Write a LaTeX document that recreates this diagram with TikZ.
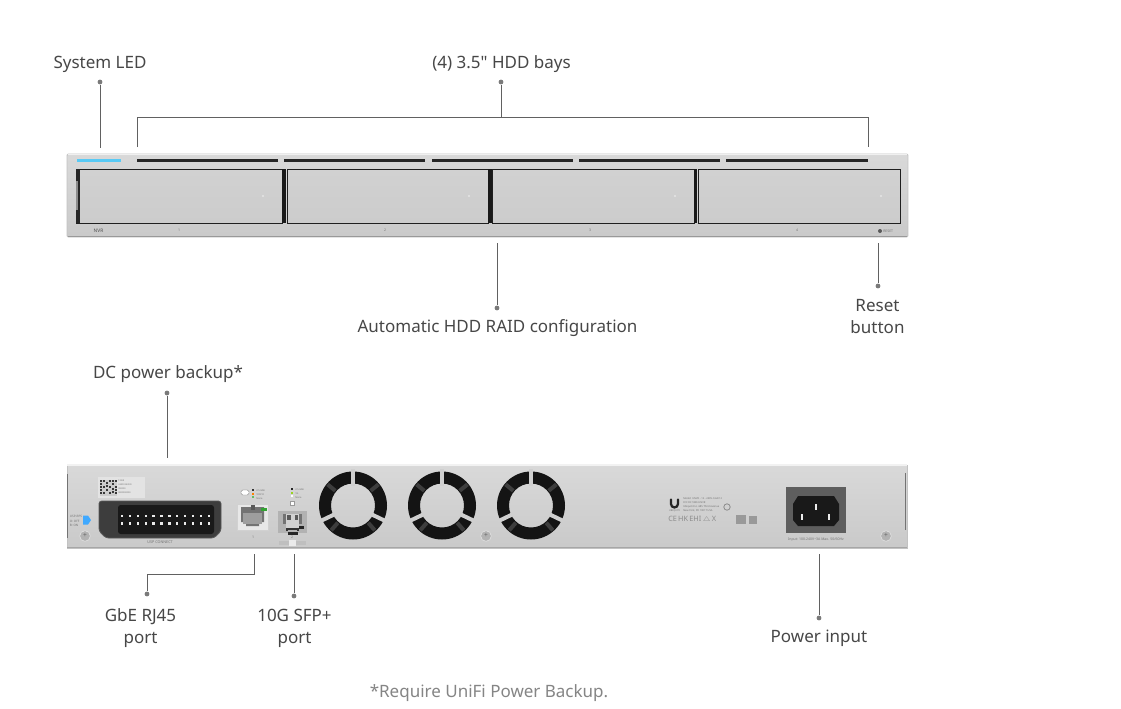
\documentclass[tikz,border=0pt]{standalone}
\usepackage{fontspec}
\setmainfont{Noto Sans}[Ligatures=TeXOff]
\begin{document}
\begin{tikzpicture}[x=0.75pt,y=-0.75pt,
  lbl/.style={font=\fontsize{12.75pt}{16.5pt}\selectfont,text=black!72,inner sep=0pt,align=center},
  note/.style={font=\fontsize{12.75pt}{16.5pt}\selectfont,text=black!48,inner sep=0pt},
  wire/.style={draw=black!62,line width=0.7pt},
  dot/.style={circle,fill=black!52,inner sep=0pt,minimum size=3.6pt},
  tiny/.style={font=\fontsize{2.6pt}{3pt}\selectfont,text=black!55,inner sep=0pt,align=center},
  slot/.style={line width=2.2pt,draw=black!85},
  bay/.style={draw=black!88,line width=0.6pt,top color=black!18,bottom color=black!20},
  bayled/.style={circle,fill=white!90!black,inner sep=0pt,minimum size=1.6pt},
  screw/.style={circle,fill=black!30,draw=black!12,line width=0.5pt,inner sep=0pt,minimum size=8pt},
  pin/.style={fill=black!8,inner sep=0pt,minimum size=1.7pt},
  chassis/.style={top color=black!15,bottom color=black!21,draw=black!24,line width=0.7pt}]
\useasboundingbox (0,0) rectangle (1121,708);
\fill[white] (0,0) rectangle (1121,708);

% ---------- front panel
\draw[chassis,rounded corners=1pt] (67,154) rectangle (908,237);
\draw[black!6,line width=0.6pt] (68,154.6) -- (907,154.6);
\draw[black!40,line width=0.7pt] (68,236.6) -- (907,236.6);
\fill[cyan!65!white] (77,158.6) rectangle (121,161.6);
\foreach \a/\b in {137/278,284/425,432/573,579/720,726/868}
  \draw[slot] (\a,160.5) -- (\b,160.5);
% bays
\draw[bay] (76,169) rectangle (282,223);
\draw[bay] (287,169) rectangle (488,223);
\draw[bay] (492,169) rectangle (694,223);
\draw[bay] (698,169) rectangle (900,223);
\fill[black!85] (76,169) rectangle (80,223);
\fill[black!45] (75.5,181) rectangle (78,210);
\fill[black!90] (282,169) rectangle (286,223);
\fill[black!90] (487.5,169) rectangle (491.5,223);
\fill[black!90] (693.5,169) rectangle (697,223);
\node[bayled] (l1) at (263,196) {};
\node[bayled] (l2) at (469,196) {};
\node[bayled] (l3) at (675,196) {};
\node[bayled] (l4) at (881,196) {};
\node[tiny,font=\fontsize{3.6pt}{4pt}\bfseries\selectfont,text=black!70] (nvr) at (98.5,230.5) {NVR};
\node[tiny] (n1) at (179,230.5) {1};
\node[tiny] (n2) at (385,230.5) {2};
\node[tiny] (n3) at (590,230.5) {3};
\node[tiny] (n4) at (797,230.5) {4};
\node[circle,fill=black!65,inner sep=0pt,minimum size=3pt] (rb) at (880,231) {};
\node[tiny,anchor=west] (rt) at (883,231) {RESET};

% ---------- rear panel
\draw[chassis] (67,465) rectangle (907,548);
\draw[black!5,line width=0.8pt] (67,465) -- (907,465);
\draw[black!35,line width=0.7pt] (67,547.6) -- (907,547.6);
\draw[black!55,line width=0.7pt] (67.5,474) -- (67.5,538);
\draw[black!55,line width=0.7pt] (905,473) -- (905,530);
% label + QR
\fill[black!11] (98,477) rectangle (145,498);
\fill[white!80!black] (100,480) rectangle (117,496);
\foreach \x/\y in {100/482,100/485,100/488,100/491,100/494,103/482,103/488,103/494,106/484,106/487,106/491,109/482,109/488,109/494,112/482,112/485,112/490,112/493,115/482,115/488,115/491,115/494}
  \fill[black!78] (\x,\y) rectangle ++(2.4,-2.2);
\node[tiny,align=left,anchor=west,font=\fontsize{1.6pt}{3pt}\selectfont] (qrt) at (118,487) {T-NVR\\UNIFI DEVICE\\000000\\0000000000};
% UPS connector
\draw[fill=black!76,draw=black!65,rounded corners=2pt,line width=0.6pt] (99,501) -- (221,501) -- (221,531) -- (214,538) -- (106,538) -- (99,531) -- cycle;
\fill[black!90,rounded corners=2pt] (118,505) rectangle (214,534);
\foreach \i in {0,...,11}{
  \node[pin] at (122+\i*7.9,516) {};
  \node[pin] at (122+\i*7.9,523.5) {};
}
\node[tiny,font=\fontsize{2.8pt}{3pt}\selectfont] (ups) at (160,542) {USP CONNECT};
\node[tiny,align=left,font=\fontsize{2.3pt}{3.2pt}\selectfont] (upst) at (76,521) {USP-RPS\\O: OFF\\B: ON};
\fill[blue!45!cyan!75!white] (83,515.5) -- (88,515.5) -- (91,520) -- (88,524.5) -- (83,524.5) -- cycle;
\node[screw] (s1) at (85,536) {};
\node[font=\fontsize{5pt}{5pt}\selectfont,text=black!60,inner sep=0pt] at (s1) {+};
% RJ45
\draw[fill=black!9,draw=black!18,line width=0.5pt] (237,504) rectangle (268,530);
\fill[black!55] (241,507) -- (264,507) -- (264,522) -- (259,522) -- (259,526) -- (246,526) -- (246,522) -- (241,522) -- cycle;
\fill[black!38] (243,513) rectangle (262,524);
\fill[green!55!black!80] (261,507.5) rectangle (267,510.5);
\fill[black!65] (251,505) rectangle (255,510);
\node[tiny] (p1) at (253,537) {1};
\node[tiny,align=left,font=\fontsize{1.8pt}{2.9pt}\selectfont,anchor=west] (rjl) at (256,494.5) {2.5 GbE\\100/10\\None};
\draw[black!55,fill=white,rounded corners=1.2pt,line width=0.3pt] (241,490) rectangle (249,495);
\fill[black!80] (252,489) rectangle (254,491);
\fill[orange] (252,492.5) rectangle (254,494.5);
\fill[green!55!black!60] (252,496) rectangle (254,498);
% SFP
\fill[black!30] (278,511) rectangle (307,533);
\fill[black!55] (283,514) -- (302,514) -- (302,524) -- (283,524) -- cycle;
\fill[black!18] (286,514) rectangle (299,528);
\fill[black!65] (287,515) rectangle (291,520);
\fill[black!65] (295,515) rectangle (298,520);
\draw[black!80,line width=1pt] (287,531) -- (287,529) -- (298,529) -- (298,531);
\fill[black!85] (299,526) rectangle (304,529);
\fill[black!85] (288,532) rectangle (298,534.5);
\node[tiny] (p2) at (292,537) {2};
\fill[black!25] (279,541) rectangle (289,544.5);
\fill[black!25] (296,541) rectangle (306,544.5);
\fill[white!92!black] (289,540) rectangle (296,546);
\node[tiny,align=left,font=\fontsize{1.8pt}{2.9pt}\selectfont,anchor=west] (sfl) at (295,493.5) {2.5 GbE\\1G\\None};
\fill[black!85] (291,487.5) rectangle (293,489.5);
\fill[yellow!60!green] (291,491.5) rectangle (293,493.5);
\fill[white] (291,495) rectangle (293,497);
\draw[black!40,fill=white,line width=0.3pt] (290,501) rectangle (294,505);
% fans
\foreach \cx in {353,442,531}{
  \fill[black!92,even odd rule] (\cx,505.5) circle[radius=25.5pt] (\cx,505.5) circle[radius=16.5pt];
  \foreach \dx/\dy in {-0.77/-0.64,0.77/-0.64,-0.66/0.75,0.66/0.75}
    \draw[black!76,line width=3pt] (\cx+\dx*23,505.5+\dy*23) -- (\cx+\dx*33,505.5+\dy*33);
  \foreach \dx/\dy in {0/-1,-0.9/0.43,0.9/0.43}
    \draw[black!19,line width=3pt] (\cx+\dx*20,505.5+\dy*20) -- (\cx+\dx*37,505.5+\dy*37);
}
\node[screw] (s2) at (486,536) {};
\node[font=\fontsize{5pt}{5pt}\selectfont,text=black!60,inner sep=0pt] at (s2) {+};
% regulatory
\draw[black!85,line width=1.7pt,line cap=round] (671,499.5) -- (671,504) arc[start angle=180,end angle=360,radius=2.6pt] -- (678,499.5);
\node[tiny,font=\fontsize{1.8pt}{2pt}\selectfont] (ub) at (674.5,511) {UBIQUITI};
\node[tiny,align=left,anchor=west,font=\fontsize{1.9pt}{3pt}\selectfont] (reg) at (683,504.5) {Model: UNVR - 12 - 240V-0.4A/12\\FCC ID: SWX-UNVR\\Ubiquiti Inc. 685 Third Avenue\\New York, NY 10017 USA};
\node[tiny,font=\fontsize{5.5pt}{6pt}\selectfont,text=black!45,anchor=west] (ce) at (668,519.5) {CE\,HK\,EHI\,$\triangle$\,X};
\draw[black!45,line width=0.6pt] (727,507) circle[radius=2.4pt];
\fill[black!40] (736,515) rectangle (746,524);
\fill[black!40] (749,516) rectangle (757,524);
% power inlet
\fill[black!63] (786,487) rectangle (846,533);
\fill[black!90] (798,496) -- (834,496) -- (839,504) -- (839,520) -- (834,526) -- (798,526) -- (793,520) -- (793,504) -- cycle;
\node[fill=black!8,inner sep=0pt,minimum width=1.5pt,minimum height=4.5pt] (pa) at (816,507) {};
\node[fill=black!8,inner sep=0pt,minimum width=1.5pt,minimum height=4.5pt] (pb) at (802,516.5) {};
\node[fill=black!8,inner sep=0pt,minimum width=1.5pt,minimum height=4.5pt] (pc) at (829,516.5) {};
\node[tiny] (inp) at (816,539.5) {Input: 100-240V\textasciitilde 3A Max. 50/60Hz};
\node[screw] (s3) at (886,536) {};
\node[font=\fontsize{5pt}{5pt}\selectfont,text=black!60,inner sep=0pt] at (s3) {+};

% ---------- callouts, top
\node[lbl] (tLed) at (100,64) {System LED};
\node[lbl] (tBays) at (501.5,64) {(4) 3.5" HDD bays};
\node[lbl] (tRaid) at (497.5,328) {Automatic HDD RAID configuration};
\node[lbl] (tReset) at (877.5,317) {Reset\\button};
\node[dot] (dLed) at (100,82) {};
\node[dot] (dBays) at (501,82) {};
\node[dot] (dRaid) at (497,308) {};
\node[dot] (dReset) at (878,286) {};
\coordinate (eLed) at (100,148);
\coordinate (bJoin) at (501,117);
\coordinate (bL) at (137,147);
\coordinate (bLt) at (137,117);
\coordinate (bR) at (868,147);
\coordinate (bRt) at (868,117);
\coordinate (eRaid) at (497,243);
\coordinate (eReset) at (878,243);
\draw[wire] (dLed) -- (eLed);
\draw[wire] (dBays) -- (bJoin);
\draw[wire] (bL) -- (bLt) -- (bRt) -- (bR);
\draw[wire] (eRaid) -- (dRaid);
\draw[wire] (eReset) -- (dReset);

% ---------- callouts, bottom
\node[lbl] (tDc) at (168,374) {DC power backup*};
\node[lbl] (tGbe) at (140.5,628) {GbE RJ45\\port};
\node[lbl] (tSfp) at (294.5,628) {10G SFP+\\port};
\node[lbl] (tPow) at (819,638) {Power input};
\node[note] (tNote) at (489,693) {*Require UniFi Power Backup.};
\node[dot] (dDc) at (167,393) {};
\node[dot] (dGbe) at (147,594) {};
\node[dot] (dSfp) at (294,596) {};
\node[dot] (dPow) at (819,618) {};
\coordinate (eDc) at (167,458);
\coordinate (eGbe) at (254,554);
\coordinate (cGbe) at (254,574);
\coordinate (cGbe2) at (147,574);
\coordinate (eSfp) at (294,554);
\coordinate (ePow) at (819,554);
\draw[wire] (dDc) -- (eDc);
\draw[wire] (eGbe) -- (cGbe) -- (cGbe2) -- (dGbe);
\draw[wire] (eSfp) -- (dSfp);
\draw[wire] (ePow) -- (dPow);
\end{tikzpicture}
\end{document}
